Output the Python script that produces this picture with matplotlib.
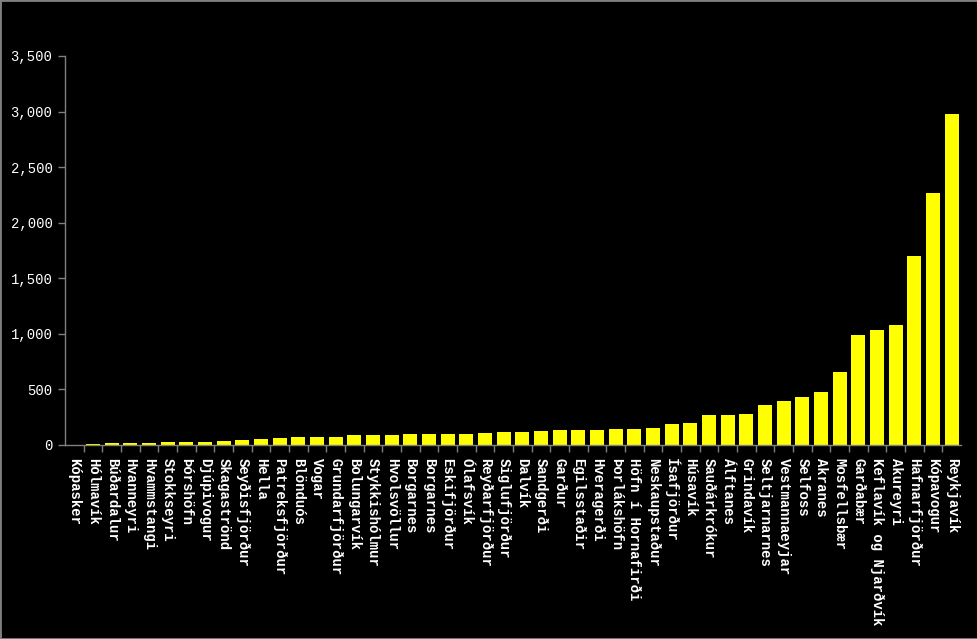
import matplotlib
matplotlib.use("Agg")
import matplotlib.pyplot as plt
from matplotlib.ticker import FuncFormatter, FixedLocator

# towns, sorted by value
towns = ["Kópasker", "Hólmavík", "Búðardalur", "Hvanneyri", "Hvammstangi",
         "Stokkseyri", "Þórshöfn", "Djúpivogur", "Skagaströnd", "Seyðisfjörður",
         "Hella", "Patreksfjörður", "Blönduós", "Vogar", "Grundarfjörður",
         "Bolungarvík", "Stykkishólmur", "Hvolsvöllur", "Borgarnes", "Borgarnes",
         "Eskifjörður", "Ólafsvík", "Reyðarfjörður", "Siglufjörður", "Dalvík",
         "Sandgerði", "Garður", "Egilsstaðir", "Hveragerði", "Þorlákshöfn",
         "Höfn í Hornafirði", "Neskaupstaður", "Ísafjörður", "Húsavík",
         "Sauðárkrókur", "Álftanes", "Grindavík", "Seltjarnarnes",
         "Vestmannaeyjar", "Selfoss", "Akranes", "Mosfellsbær", "Garðabær",
         "Keflavík og Njarðvík", "Akureyri", "Hafnarfjörður", "Kópavogur",
         "Reykjavík"]

values = [2, 9, 18, 18, 18,
          27, 27, 27, 36, 45,
          54, 63, 72, 72, 72,
          90, 90, 90, 99, 99,
          99, 99, 108, 117, 117,
          126, 135, 135, 135, 144,
          144, 153, 189, 198,
          270, 270, 279, 360,
          396, 432, 477, 657, 990,
          1035, 1080, 1701, 2268,
          2980]

y_ticks = [0, 500, 1000, 1500, 2000, 2500, 3000, 3500]

fig = plt.figure(figsize=(9.78, 6.39), dpi=100, facecolor="black")
ax = fig.add_axes([65 / 978, 1 - 445 / 639, (961 - 65) / 978, (445 - 56) / 639])
ax.set_facecolor("black")

x = list(range(len(towns)))
ax.bar(x, values, width=0.75, color="#ffff00", zorder=2)

ax.set_xlim(-0.5, len(towns) - 0.5)
ax.set_ylim(0, 3500)

for s in ["top", "right"]:
    ax.spines[s].set_visible(False)
for s in ["left", "bottom"]:
    ax.spines[s].set_color("#808080")
    ax.spines[s].set_linewidth(1)

ax.set_yticks(y_ticks)
ax.yaxis.set_major_formatter(FuncFormatter(lambda v, p: f"{int(v):,}"))
ax.tick_params(axis="y", colors="#808080", length=5, width=1, pad=4,
               labelcolor="white")
for lab in ax.get_yticklabels():
    lab.set_fontfamily("Liberation Mono")
    lab.set_fontsize(10)

ax.set_xticks(x)
ax.set_xticklabels(towns, rotation=-90, fontfamily="Liberation Mono",
                   fontweight="bold", fontsize=10, color="white")
ax.tick_params(axis="x", length=0, pad=9)
ax.xaxis.set_minor_locator(FixedLocator([i + 0.5 for i in range(len(towns) - 1)]))
ax.tick_params(axis="x", which="minor", length=5, width=1, color="#808080")
for lab in ax.get_xticklabels():
    lab.set_verticalalignment("top")
    lab.set_horizontalalignment("center")

# grey frame round the figure
fig.patches.append(plt.Rectangle((0, 0), 1, 1, transform=fig.transFigure,
                                 fill=False, edgecolor="#808080", linewidth=2))

fig.savefig("out.png", dpi=100, facecolor="black")
